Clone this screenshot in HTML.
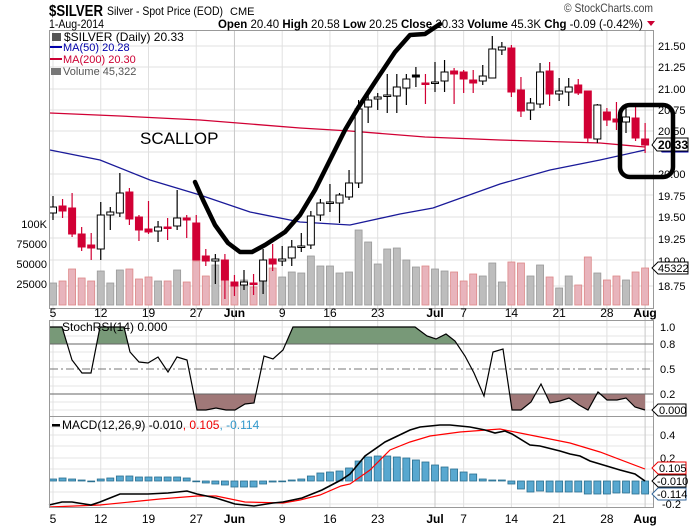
<!DOCTYPE html>
<html><head><meta charset="utf-8"><style>
body{margin:0;background:#fff;width:700px;height:530px;overflow:hidden;font-family:"Liberation Sans",sans-serif}
svg{display:block}
text{font-family:"Liberation Sans",sans-serif}
</style></head><body>
<svg id="s" width="700" height="530" xmlns="http://www.w3.org/2000/svg">
<g id="grid"></g>
<g id="vol"></g>
<g id="ma"></g>
<g id="cand"></g>
<g id="ind"></g>
<rect x="49.5" y="30.5" width="604" height="278" fill="none" stroke="#999"/>
<rect x="49.5" y="320.5" width="604" height="96" fill="none" stroke="#999"/>
<rect x="49.5" y="416.5" width="604" height="91" fill="none" stroke="#999"/>
<text x="49" y="16" font-size="16" font-weight="bold" textLength="54" lengthAdjust="spacingAndGlyphs">$SILVER</text>
<text x="107" y="15" font-size="12" textLength="116" lengthAdjust="spacingAndGlyphs">Silver - Spot Price (EOD)</text>
<text x="230" y="15" font-size="11">CME</text>
<text x="564" y="12" font-size="12" fill="#444" textLength="89" lengthAdjust="spacingAndGlyphs">© StockCharts.com</text>
<text x="49" y="28" font-size="12" textLength="55" lengthAdjust="spacingAndGlyphs">1-Aug-2014</text>
<text x="218" y="28" font-size="11.5" textLength="425" lengthAdjust="spacingAndGlyphs"><tspan font-weight="bold">Open</tspan> 20.40 <tspan font-weight="bold">High</tspan> 20.58 <tspan font-weight="bold">Low</tspan> 20.25 <tspan font-weight="bold">Close</tspan> 20.33 <tspan font-weight="bold">Volume</tspan> 45.3K <tspan font-weight="bold">Chg</tspan> -0.09 (-0.42%)</text>
<path d="M647 21 L655 21 L651 26Z" fill="#c03"/>
<text x="64" y="41" font-size="12">$SILVER (Daily) 20.33</text>
<rect x="52" y="33" width="9" height="8" fill="#555"/>
<rect x="50" y="46" width="12" height="2" fill="#00a"/>
<text x="63" y="51" font-size="11" fill="#00a">MA(50) 20.28</text>
<rect x="50" y="58" width="12" height="2" fill="#c03"/>
<text x="63" y="63" font-size="11" fill="#c03">MA(200) 20.30</text>
<rect x="51" y="68" width="10" height="7" fill="#777"/>
<text x="63" y="75" font-size="11" fill="#555">Volume 45,322</text>
<text x="140" y="144" font-size="17">SCALLOP</text>
<g font-size="11" fill="#000">
<text x="658" y="50">21.50</text><text x="658" y="71">21.25</text><text x="658" y="93">21.00</text>
<text x="658" y="114">20.75</text><text x="658" y="135">20.50</text><text x="658" y="178">20.00</text>
<text x="658" y="200">19.75</text><text x="658" y="221">19.50</text><text x="658" y="243">19.25</text>
<text x="658" y="265">19.00</text><text x="658" y="290">18.75</text>
</g>
<g font-size="11" text-anchor="end">
<text x="47" y="228">100K</text><text x="47" y="248">75000</text><text x="47" y="268">50000</text><text x="47" y="288">25000</text>
</g>
<path d="M657 145 L662 139 H688 V152 H662Z" fill="#fff" stroke="#00a"/>
<path d="M652 145 L657 138 H688 V151 H657Z" fill="#fff" stroke="#000"/>
<text x="658" y="149" font-size="12" font-weight="bold">20.33</text>
<path d="M652 268 L658 262 H688 V274 H658Z" fill="#fff" stroke="#000"/>
<text x="658" y="272" font-size="11">45322</text>
<g font-size="11">
<text x="660" y="331">1.0</text><text x="660" y="348">0.8</text><text x="660" y="373">0.5</text><text x="660" y="398">0.2</text>
<text x="660" y="439">0.4</text><text x="660" y="462">0.2</text><text x="662" y="508">-0.2</text>
</g>
<path d="M652 410 L658 404 H686 V416 H658Z" fill="#fff" stroke="#000"/>
<text x="659" y="414" font-size="11">0.000</text>
<path d="M652 468 L658 462 H686 V474 H658Z" fill="#fff" stroke="#e00"/>
<text x="659" y="472" font-size="11">0.105</text>
<path d="M652 481 L658 475 H686 V487 H658Z" fill="#fff" stroke="#000"/>
<text x="657" y="485" font-size="11">-0.010</text>
<path d="M652 494 L658 488 H686 V500 H658Z" fill="#fff" stroke="#369"/>
<text x="657" y="498" font-size="11">-0.114</text>
<g id="lbl"></g>
<g id="dates" font-size="12" text-anchor="middle"></g>
<g id="hand"></g>
</svg>
<script>
const NS="http://www.w3.org/2000/svg";
function el(p,t,a){const e=document.createElementNS(NS,t);for(const k in a)e.setAttribute(k,a[k]);document.getElementById(p).appendChild(e);return e;}
const X=i=>53+i*9.55;
[46,67,89,110,131,152,174,195,217,238,260,286].forEach(y=>el('grid','line',{x1:50,x2:653,y1:y,y2:y,stroke:'#e0e0e0'}));
[327,336,352,361,377,386,402,410].forEach(y=>el('grid','line',{x1:50,x2:653,y1:y,y2:y,stroke:'#e6e6e6'}));
[435,458,504,427,446,469,492].forEach(y=>el('grid','line',{x1:50,x2:653,y1:y,y2:y,stroke:'#e6e6e6'}));
const wk=[[0,'5'],[5,'12'],[10,'19'],[15,'27'],[19,'Jun'],[24,'9'],[29,'16'],[34,'23'],[40,'Jul'],[43,'7'],[48,'14'],[53,'21'],[58,'28'],[62,'Aug']];
wk.forEach(([i,l])=>{const x=X(i);const b=(l=='Jun'||l=='Jul'||l=='Aug');
 el('grid','line',{x1:x,x2:x,y1:31,y2:507,stroke:b?'#c8c8c8':'#e0e0e0'});
 for(const y of [317,523]){const t=el('dates','text',{x:x,y:y});t.textContent=l;if(b)t.setAttribute('font-weight','bold');}});
el('grid','line',{x1:50,x2:653,y1:344,y2:344,stroke:'#666'});
el('grid','line',{x1:50,x2:653,y1:394,y2:394,stroke:'#666'});
el('grid','line',{x1:50,x2:653,y1:369,y2:369,stroke:'#777','stroke-dasharray':'8 3 2 3'});
const vt=[283,281,269,278,281,271,283,270,269,279,277,281,281,270,282,261,276,265,266,285,280,287,268,268,277,272,273,256,266,266,273,272,230,242,264,249,248,260,267,266,269,271,272,281,274,276,263,282,262,263,276,265,277,288,276,285,257,273,280,276,280,272,268];
const C=[[207,213,0,196,220],[206,211,1,199,218],[208,234,1,193,237],[234,247,1,227,251],[245,248,1,233,260],[215,249,0,202,260],[212,215,0,207,230],[193,213,0,173,217],[192,219,1,188,225],[217,230,1,215,241],[229,232,1,201,234],[227,231,0,221,242],[227,228,1,218,240],[218,226,0,190,230],[218,220,1,215,238],[223,260,1,215,260],[256,261,1,249,266],[259,261,0,254,284],[260,280,1,254,299],[282,286,1,275,296],[282,285,0,270,290],[283,284,1,274,295],[260,281,0,249,294],[259,264,1,244,271],[259,261,0,246,266],[247,258,0,240,266],[246,247,0,233,252],[216,245,0,211,249],[203,215,0,199,221],[202,203,0,184,212],[195,203,0,193,223],[183,197,0,170,200],[109,183,0,100,188],[100,107,0,93,123],[97,99,0,93,110],[95,96,0,74,113],[87,96,0,74,113],[79,88,0,74,105],[75,77,2,67,87],[83,84,1,74,104],[82,83,0,62,92],[72,81,0,60,92],[71,74,1,68,104],[72,79,1,70,93],[80,83,1,70,93],[76,81,0,65,85],[49,78,0,36,78],[47,50,0,42,55],[48,92,1,45,97],[90,111,1,77,117],[103,110,0,98,120],[72,104,0,63,108],[71,94,1,62,106],[91,94,0,78,101],[87,92,0,78,106],[85,93,1,79,95],[91,138,1,91,143],[105,139,0,104,143],[112,120,1,108,126],[119,122,1,102,130],[117,122,0,105,133],[118,138,1,107,141],[139,145,1,123,153]];
C.forEach((c,i)=>{const x=X(i),r=c[2]==1;
 el('vol','rect',{x:x-3.5,y:vt[i],width:7,height:305-vt[i],fill:r?'#e8b4bc':'#bdbdbd',stroke:r?'#d88':'#999','stroke-width':0.8});
 const col=r?'#d10034':'#000';
 el('cand','line',{x1:x,x2:x,y1:c[3],y2:c[4],stroke:col,'stroke-width':1.2});
 const h=Math.max(c[1]-c[0],1.5);
 el('cand','rect',{x:x-3.5,y:c[0],width:7,height:h,fill:r?'#d10034':(c[2]==2?'#000':'#fff'),stroke:col,'stroke-width':1});
});
function pl(p,pts,st,w,extra){const a={points:pts.map(q=>q.join(',')).join(' '),fill:'none',stroke:st,'stroke-width':w};Object.assign(a,extra||{});return el(p,'polyline',a);}
pl('ma',[[50,113],[120,116],[200,120],[300,128],[350,131],[425,137],[500,140],[600,143],[645,147]],'#d10034',1.3);
pl('ma',[[50,150],[100,160],[150,180],[200,195],[250,212],[300,222],[350,225],[400,214],[433,208],[500,184],[550,170],[600,160],[645,150]],'#1a1a99',1.3);
const S=[[49,327],[62,327],[72,360],[82,373],[91,373],[100,327],[124,327],[130,352],[139,362],[148,363],[158,357],[168,372],[177,357],[187,360],[197,410],[206,410],[216,408],[226,410],[235,410],[245,404],[254,403],[264,356],[273,359],[283,350],[293,327],[415,327],[427,336],[436,339],[446,334],[455,341],[465,356],[474,373],[484,396],[493,352],[503,349],[512,410],[521,410],[531,402],[541,384],[550,403],[560,401],[569,398],[579,405],[588,410],[598,392],[607,400],[617,400],[626,398],[635,407],[645,410]];
const g=document.createElementNS(NS,'clipPath');g.id='top';g.innerHTML='<rect x="49" y="320" width="605" height="24"/>';document.getElementById('s').appendChild(g);
const g2=document.createElementNS(NS,'clipPath');g2.id='bot';g2.innerHTML='<rect x="49" y="394" width="605" height="20"/>';document.getElementById('s').appendChild(g2);
const sp=S.map(q=>q.join(',')).join(' ');
el('ind','polygon',{points:'49,344 '+sp+' 645,344',fill:'#789978','clip-path':'url(#top)'});
el('ind','polygon',{points:'49,394 '+sp+' 645,394',fill:'#a07878','clip-path':'url(#bot)'});
el('ind','line',{x1:50,x2:653,y1:344,y2:344,stroke:'#666'});
el('ind','line',{x1:50,x2:653,y1:394,y2:394,stroke:'#666'});
pl('ind',S,'#000',1.2);
const H=[479,478,479,480,481,479,478,476,476,477,477,477,477,477,478,481,483,484,485,487,487,487,484,482,481,480,479,476,473,472,471,468,461,457,456,456,457,458,460,462,465,467,469,472,474,479,480,480,484,489,492,491,492,492,492,492,494,494,494,493,493,494,494];
H.forEach((h,i)=>{const x=X(i);const y=Math.min(h,481),hh=Math.max(Math.abs(h-481),0.8);el('ind','rect',{x:x-3.5,y:y,width:7,height:hh,fill:'#58a8d0',stroke:'#2a6f90','stroke-width':0.8});});
pl('ind',[[49,507],[100,505],[130,502],[160,499],[197,496],[216,496],[245,502],[283,503],[300,500],[320,495],[341,486],[350,484],[370,470],[390,450],[410,442],[430,436],[460,432],[500,429],[540,437],[570,443],[600,452],[645,469]],'#f00',1.2);
pl('ind',[[49,505],[62,502],[72,502],[91,505],[100,502],[110,498],[120,494],[148,494],[168,493],[187,491],[197,494],[216,498],[235,504],[254,506],[273,503],[283,502],[302,498],[322,490],[341,480],[350,474],[365,456],[385,442],[410,430],[420,427],[440,425],[450,425],[470,427],[485,430],[495,433],[505,431],[512,434],[530,445],[540,446],[560,451],[570,454],[580,456],[590,461],[600,464],[620,470],[635,474],[645,481]],'#000',1.6);
pl('hand',[[195,182],[203,200],[215,225],[228,243],[240,252],[252,252],[265,245],[285,232],[300,215],[315,190],[330,160],[345,130],[358,108],[375,82],[395,52],[410,35],[425,34],[440,24]],'#000',4.5,{'stroke-linejoin':'round','stroke-linecap':'round'});
el('hand','rect',{x:620,y:105,width:53,height:72,rx:10,fill:'none',stroke:'#000','stroke-width':4.5});
</script>
<svg width="0" height="0" style="position:absolute"></svg>
<div style="position:absolute;left:0;top:0;width:700px;height:530px;pointer-events:none">
<svg width="700" height="530" xmlns="http://www.w3.org/2000/svg">
<text x="62" y="331" font-size="12" font-family="Liberation Sans">StochRSI(14) 0.000</text>
<text x="62" y="429" font-size="12" font-family="Liberation Sans">MACD(12,26,9) -0.010<tspan fill="#e00">, 0.105</tspan><tspan fill="#39c">, -0.114</tspan></text>
<rect x="52" y="424" width="8" height="2.5" fill="#000"/>
</svg></div>
</body></html>
